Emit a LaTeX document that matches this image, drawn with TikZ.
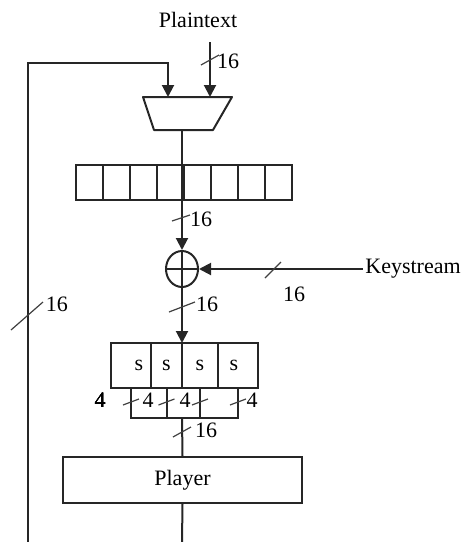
\documentclass[tikz,border=0pt]{standalone}
\usepackage{fontspec}
\setmainfont{Liberation Serif}
\usepackage{tikz}
\usetikzlibrary{shapes.geometric, arrows.meta, positioning, calc}
\newcommand{\busmark}[3]{\draw[busslash] ($#1+(-#2,#3)$) -- ($#1+(#2,-#3)$);}

\begin{document}
\begin{tikzpicture}[x=0.5pt, y=-0.5pt, font=\fontsize{11}{13}\selectfont,
        line/.style={draw=black!85, line width=1pt},
        arr/.style={line, -{Triangle[length=6pt,width=6pt]}},
        cell/.style={rectangle, draw=black!85, line width=0.8pt, minimum width=13.5pt, minimum height=17.5pt, inner sep=0pt, outer sep=0pt},
        sbox/.style={rectangle, draw=black!85, line width=1pt, minimum height=22.5pt, inner sep=0pt, outer sep=0pt},
        xorop/.style={ellipse, draw=black!85, line width=1pt, minimum width=16pt, minimum height=18pt, inner sep=0pt},
        busslash/.style={draw=black!75, line width=0.6pt},
        lbl/.style={inner sep=0pt}]
    \useasboundingbox (0,0) rectangle (467,542);

    % inputs and mixer
    \node (plain) at (198,20) {Plaintext};
    \draw [line, line join=round] (143,97) -- (232,97) -- (213,130) -- (154,130) -- cycle;
    \coordinate (mxout) at (182,130);
    \coordinate (pin) at (210,42);
    \coordinate (fbin) at (168,63);
    \coordinate (mxtop) at (0,97);
    \coordinate (fbout) at (28,542);

    % state register
    \node [cell] (r1) at (89.5,182.5) {};
    \foreach \i [remember=\i as \j (initially 1)] in {2,...,8}
        \node [cell, right=0pt of r\j] (r\i) {};

    % xor with keystream
    \node [xorop] (xor) at (182,269) {};
    \node [anchor=west, inner sep=1pt] (key) at (363,269) {Keystream};

    % s-boxes
    \node [sbox, minimum width=20pt] (s1) at (131,365.5) {\hspace*{8pt}s};
    \node [sbox, minimum width=15.5pt, right=0pt of s1] (s2) {s};
    \node [sbox, minimum width=18pt, right=0pt of s2] (s3) {s};
    \node [sbox, minimum width=20pt, right=0pt of s3] (s4) {s\hspace*{4pt}};
    \coordinate (join) at (182,418);

    \node [rectangle, draw=black!85, line width=1pt, minimum width=119.5pt, minimum height=23pt, inner sep=0pt] (play) at (182.5,480) {Player};
    \coordinate (pend) at (182,542);

    % connectors
    \draw [arr] (pin) -- (pin |- mxtop);
    \draw [arr] (fbout) |- (fbin) -- (fbin |- mxtop);
    \draw [arr] (mxout) -- (xor.north);
    \draw [line] (xor.west) -- (xor.east);
    \draw [line] (xor.north) -- (xor.south);
    \draw [arr] (key.west) -- (xor.east);
    \draw [arr] (xor.south) -- (s2.north east);
    \draw [line] (s1.south) -- (s1.south |- join) -- (s4.south |- join) -- (s4.south);
    \draw [line] (s2.south) -- (s2.south |- join);
    \draw [line] (s3.south) -- (s3.south |- join);
    \draw [line] (join) -- (play.north);
    \draw [line] (play.south) -- (pend);

    % bus widths
    \busmark{(210,60)}{9}{5}
    \node [lbl] at (228,61) {16};
    \busmark{(181,218)}{9}{3}
    \node [lbl] at (201,219) {16};
    \busmark{(182,307)}{13}{5}
    \node [lbl] at (207,304) {16};
    \busmark{(273,270)}{8}{8}
    \node [lbl] at (294,294) {16};
    \busmark{(27,316)}{16}{14}
    \node [lbl] at (57,304) {16};
    \foreach \p in {s1,s2,s3,s4}
        \busmark{($(\p.south)+(0,14)$)}{8}{3}
    \node [lbl] at (100,400) {4};
    \node [lbl] at (148,400) {4};
    \node [lbl] at (185,400) {4};
    \node [lbl] at (252,400) {4};
    \busmark{(182,432)}{9}{5}
    \node [lbl] at (206,430) {16};
\end{tikzpicture}
\end{document}
